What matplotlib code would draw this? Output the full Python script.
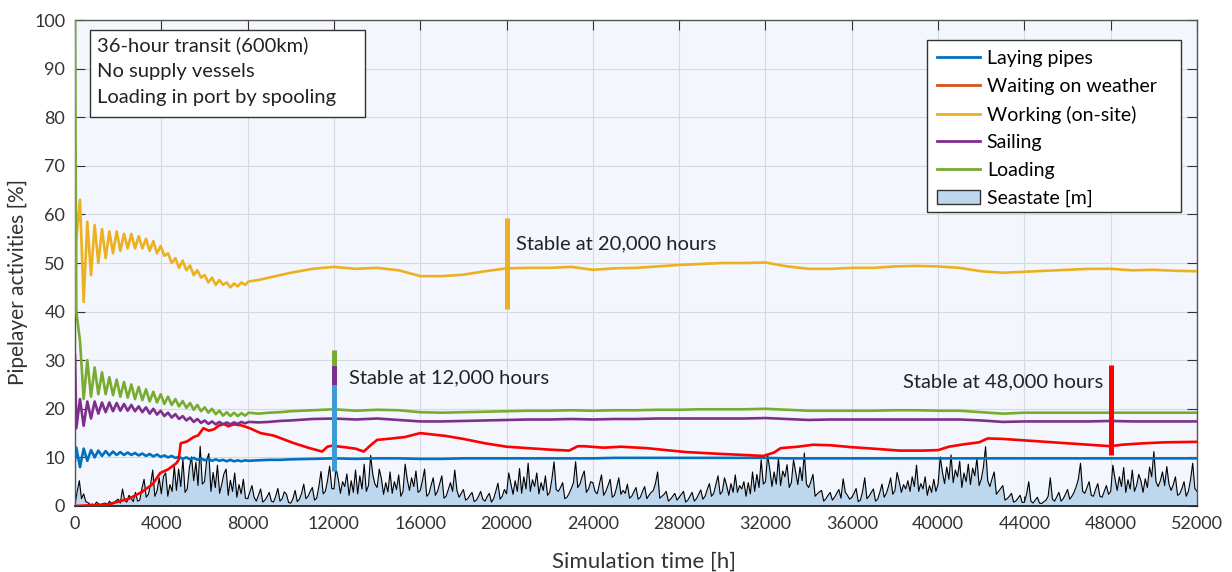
import matplotlib.pyplot as plt
import numpy as np
from matplotlib.lines import Line2D
from matplotlib.patches import Patch, Rectangle

plt.rcParams["font.family"] = ["Lato", "DejaVu Sans"]

# time grid shared by the four oscillating series [h]
hours = [0, 60] + list(range(230, 8051, 170)) + [8500, 9000, 9500] + list(range(10000, 52001, 1000))

laying = [
    9.5, 12.0, 8.0, 11.8, 9.3, 11.5, 10.0, 11.4, 10.3, 11.3, 10.4, 11.2, 10.5, 11.1, 10.5, 11.0,
    10.5, 10.9, 10.4, 10.8, 10.3, 10.7, 10.2, 10.6, 10.1, 10.4, 10.0, 10.3, 9.9, 10.1, 9.7, 10.0,
    9.6, 9.9, 9.5, 9.8, 9.4, 9.7, 9.3, 9.6, 9.3, 9.5, 9.2, 9.5, 9.2, 9.4, 9.2, 9.4, 9.3,
    9.4, 9.5, 9.5,
    9.6, 9.7, 9.8, 9.7, 9.8, 9.8, 9.7, 9.7, 9.8, 9.8, 9.8, 9.8, 9.8, 9.8, 9.8, 9.9, 9.9, 9.9,
    9.9, 9.9, 9.9, 9.9, 9.9, 9.8, 9.8, 9.8, 9.8, 9.8, 9.8, 9.8, 9.8, 9.8, 9.8, 9.8, 9.8, 9.8,
    9.8, 9.8, 9.8, 9.8, 9.8, 9.8, 9.8,
]
working = [
    42.0, 55.0, 63.0, 42.0, 58.5, 47.5, 57.8, 50.0, 57.0, 51.0, 56.5, 52.0, 56.5, 52.5, 56.0, 53.0,
    56.0, 53.0, 55.5, 53.0, 55.0, 52.5, 54.5, 52.0, 53.5, 51.5, 52.0, 50.0, 51.0, 49.0, 50.5, 48.5,
    49.5, 47.5, 48.5, 47.0, 47.5, 46.0, 47.0, 45.5, 46.5, 45.5, 46.0, 45.0, 45.8, 45.2, 46.0, 45.5,
    46.2,
    46.5, 47.0, 47.5,
    48.0, 48.8, 49.2, 48.8, 49.0, 48.5, 47.3, 47.3, 47.6, 48.3, 48.9, 49.0, 49.0, 49.2, 48.6, 48.9,
    49.0, 49.3, 49.6, 49.8, 50.0, 50.0, 50.1, 49.3, 48.8, 48.8, 49.0, 49.0, 49.3, 49.4, 49.3, 49.0,
    48.3, 48.0, 48.2, 48.4, 48.6, 48.8, 48.8, 48.5, 48.6, 48.4, 48.3,
]
sailing = [
    31.0, 16.0, 22.0, 16.5, 21.5, 18.0, 21.5, 19.0, 21.3, 19.3, 21.3, 19.5, 21.2, 19.6, 21.0, 19.6,
    20.8, 19.5, 20.5, 19.3, 20.3, 19.0, 20.0, 18.8, 19.6, 18.5, 19.2, 18.2, 18.9, 17.9, 18.5, 17.6,
    18.2, 17.3, 17.9, 17.1, 17.6, 16.9, 17.4, 16.8, 17.3, 16.8, 17.2, 16.8, 17.2, 16.9, 17.3, 17.0,
    17.3,
    17.2, 17.3, 17.5,
    17.6, 17.9, 18.0, 17.8, 18.0, 17.7, 17.4, 17.4, 17.5, 17.6, 17.7, 17.8, 17.8, 17.9, 17.8, 17.9,
    17.9, 18.0, 18.0, 18.0, 18.0, 18.0, 18.1, 17.9, 17.7, 17.8, 17.8, 17.8, 17.8, 17.8, 17.8, 17.8,
    17.6, 17.3, 17.4, 17.4, 17.4, 17.4, 17.5, 17.4, 17.4, 17.4, 17.4,
]
loading = [
    100.0, 40.0, 34.0, 22.0, 30.0, 22.5, 28.5, 23.0, 27.5, 23.0, 26.5, 22.8, 26.0, 22.5, 25.5, 22.3,
    25.0, 22.0, 24.5, 21.8, 24.0, 21.5, 23.5, 21.3, 23.0, 21.0, 22.5, 20.8, 22.0, 20.5, 21.6, 20.2,
    21.2, 19.8, 20.8, 19.5, 20.3, 19.2, 20.0, 18.9, 19.6, 18.6, 19.3, 18.5, 19.2, 18.5, 19.1, 18.6,
    19.2,
    19.0, 19.2, 19.3,
    19.5, 19.7, 19.9, 19.6, 19.8, 19.7, 19.3, 19.2, 19.3, 19.4, 19.5, 19.6, 19.6, 19.7, 19.6, 19.7,
    19.7, 19.8, 19.8, 19.9, 19.9, 19.9, 20.0, 19.8, 19.6, 19.6, 19.6, 19.6, 19.7, 19.7, 19.6, 19.6,
    19.3, 19.0, 19.2, 19.2, 19.2, 19.2, 19.2, 19.2, 19.2, 19.2, 19.2,
]

# waiting on weather has its own time points
wow_hours = [
    0, 1500, 2500, 3100, 3600, 3950, 4300, 4700, 4800, 4900, 5200, 5500, 5700, 5950, 6200, 6450,
    6650, 6900, 7100, 7350, 7700, 8100, 8600, 9200, 10100, 10800, 11450, 11700, 11900, 12500, 13000,
    13380, 13700, 14000, 14700, 15300, 16000, 16600, 17200, 18000, 19000, 20000, 21000, 22000,
    22900, 23300, 23600, 24500, 25300, 26500, 28300, 30000, 31000, 31900, 32400, 32700, 33500,
    34200, 35000, 36000, 37000, 38200, 39300, 40000, 40500, 41200, 41900, 42300, 43000, 44000,
    45000, 46000, 47000, 48000, 48500, 49500, 50500, 52000,
]
waiting = [
    0.0, 0.3, 1.5, 2.9, 4.5, 6.8, 7.5, 8.8, 9.5, 12.9, 13.3, 14.2, 14.5, 16.0, 15.5, 15.8,
    16.5, 16.9, 16.4, 16.8, 16.6, 16.0, 15.0, 14.5, 13.0, 12.0, 11.2, 12.2, 12.4, 12.1, 11.8,
    11.2, 12.5, 13.6, 13.9, 14.2, 15.0, 14.7, 14.4, 13.8, 12.9, 12.2, 11.9, 11.6,
    11.4, 12.3, 12.3, 12.0, 12.2, 11.9, 11.1, 10.7, 10.5, 10.3, 11.0, 11.9, 12.2,
    12.6, 12.5, 12.1, 11.8, 11.4, 11.4, 11.5, 12.2, 12.7, 13.1, 13.9, 13.8, 13.5,
    13.2, 12.9, 12.6, 12.3, 12.6, 12.9, 13.1, 13.2,
]

# seastate [m] sampled every 100 h (two lines = 4000 h)
sea_hours = list(range(0, 52001, 100))
seastate = [
    0.3, 3.0, 5.2, 1.5, 2.5, 0.9, 0.7, 0.3, 0.4, 0.2, 0.8, 0.4, 0.3, 0.5, 0.6, 0.3, 1.0, 0.4, 0.5, 1.1,
    1.4, 0.6, 3.5, 1.2, 0.8, 2.2, 1.6, 0.9, 2.8, 1.0, 1.2, 3.6, 5.5, 1.8, 2.4, 4.4, 7.4, 2.0, 3.1, 5.8,
    2.5, 6.1, 6.8, 2.0, 4.4, 3.0, 8.2, 3.2, 7.6, 4.0, 9.6, 2.8, 3.5, 7.9, 10.1, 5.2, 9.0, 4.2, 12.3, 4.5,
    5.0, 9.4, 10.8, 3.0, 6.9, 3.8, 8.4, 2.6, 4.5, 6.6, 7.6, 2.2, 5.3, 3.0, 6.8, 1.8, 4.4, 2.5, 5.5, 1.6,
    1.5, 2.8, 4.2, 1.8, 1.0, 2.2, 3.5, 0.8, 1.2, 1.9, 2.8, 1.0, 0.8, 2.0, 3.6, 1.0, 1.5, 2.9, 2.4, 0.7,
    0.6, 1.5, 3.2, 0.9, 1.4, 2.6, 4.5, 1.5, 2.0, 3.0, 3.8, 1.2, 1.6, 4.0, 7.1, 2.5, 3.0, 5.2, 8.2, 3.6,
    3.5, 7.8, 5.5, 2.6, 5.0, 4.0, 6.6, 2.2, 5.2, 2.8, 7.4, 2.5, 6.2, 3.5, 8.6, 3.0, 4.2, 10.4, 6.5, 4.5,
    3.8, 7.6, 5.6, 2.4, 4.8, 2.9, 7.0, 2.6, 5.0, 3.4, 6.4, 2.0, 3.0, 8.6, 5.4, 3.2, 5.8, 4.0, 7.2, 2.8,
    3.2, 5.2, 7.6, 2.0, 2.5, 4.2, 5.8, 2.2, 3.0, 4.6, 6.2, 1.6, 2.0, 3.4, 4.8, 3.0, 7.4, 3.2, 1.8, 2.6,
    3.4, 1.2, 1.5, 2.2, 2.8, 0.9, 1.2, 2.0, 3.0, 1.4, 1.0, 1.9, 2.6, 0.8, 1.5, 3.0, 4.7, 1.4, 2.0, 3.4,
    2.5, 6.8, 4.6, 2.4, 5.2, 3.0, 7.7, 2.6, 6.0, 3.5, 8.8, 3.0, 5.4, 4.0, 6.8, 2.5, 4.8, 3.2, 6.2, 2.2,
    2.8, 5.5, 9.1, 3.4, 3.0, 3.8, 4.8, 1.5, 1.8, 2.6, 3.6, 4.8, 9.1, 3.8, 4.5, 6.0, 7.2, 2.8, 3.5, 5.0,
    4.8, 3.0, 2.5, 4.4, 6.4, 2.2, 3.0, 4.2, 5.5, 1.8, 2.2, 3.8, 5.8, 2.4, 3.2, 2.6, 4.5, 1.6, 2.0, 2.9,
    3.8, 1.4, 1.8, 3.0, 4.0, 1.5, 2.2, 2.8, 3.2, 4.6, 7.0, 1.6, 2.0, 2.4, 3.0, 1.0, 1.4, 2.0, 2.6, 1.2,
    1.8, 2.4, 3.0, 0.8, 1.2, 2.0, 2.8, 1.0, 1.5, 2.4, 3.3, 1.4, 2.0, 3.4, 4.6, 2.0, 2.6, 4.4, 6.2, 2.4,
    3.0, 5.8, 4.2, 2.2, 4.6, 2.8, 6.4, 2.8, 4.2, 3.5, 5.0, 2.0, 4.8, 2.5, 7.0, 3.0, 6.5, 3.8, 9.5, 4.5,
    5.0, 10.5, 7.5, 4.0, 7.0, 4.5, 9.8, 4.2, 7.2, 6.0, 8.5, 3.8, 4.8, 9.5, 7.0, 4.4, 8.0, 5.2, 10.9, 4.5,
    3.8, 5.0, 6.5, 2.0, 2.5, 2.9, 3.2, 1.0, 1.5, 2.2, 2.8, 1.2, 1.8, 2.6, 3.4, 1.6, 5.6, 2.8, 2.2, 1.4,
    1.8, 2.6, 3.6, 0.9, 1.2, 3.0, 5.8, 1.5, 2.0, 2.8, 3.5, 1.0, 1.4, 2.8, 4.5, 1.8, 2.6, 4.0, 5.8, 2.4,
    3.2, 6.9, 5.0, 2.8, 4.4, 3.5, 5.2, 3.0, 6.0, 4.0, 8.4, 3.0, 4.6, 3.5, 6.0, 2.2, 4.2, 2.8, 5.5, 3.0,
    4.5, 10.1, 7.0, 4.6, 8.0, 5.5, 10.5, 4.8, 7.4, 6.0, 9.2, 3.8, 6.8, 5.0, 8.6, 4.4, 7.8, 6.2, 9.8, 4.2,
    5.5, 8.0, 12.2, 5.2, 4.0, 5.6, 7.0, 2.4, 3.0, 3.6, 4.2, 1.2, 1.5, 2.0, 2.6, 0.8, 1.0, 1.6, 2.2, 0.7,
    0.8, 2.4, 5.0, 1.0, 0.6, 1.2, 1.8, 0.6, 0.5, 0.9, 1.2, 2.0, 5.8, 1.4, 1.0, 1.9, 2.8, 1.0, 1.5, 2.4,
    3.4, 1.4, 2.0, 2.8, 4.0, 5.5, 8.8, 3.0, 2.6, 3.8, 5.0, 2.2, 2.0, 3.4, 4.6, 2.0, 1.8, 3.0, 4.2, 2.4,
    3.0, 8.4, 5.6, 3.2, 6.0, 4.0, 7.9, 2.8, 5.4, 3.5, 7.4, 3.0, 4.2, 6.5, 5.2, 2.8, 5.6, 3.8, 8.0, 6.0,
    11.2, 5.0, 4.0, 5.2, 7.0, 4.2, 8.1, 4.5, 3.2, 4.4, 6.0, 2.2, 2.5, 3.6, 5.0, 2.0, 3.0, 5.4, 8.8, 3.6,
    3.0,
]

series_labels = ["Laying pipes", "Waiting on weather", "Working (on-site)", "Sailing", "Loading"]
plot_colors = ["#0072BD", "#FF0000", "#EDB120", "#7E2F8E", "#77AC30"]
legend_colors = ["#0072BD", "#D95319", "#EDB120", "#7E2F8E", "#77AC30"]

# "stable at" markers: (hour, [(y0, y1, colour), ...], label)
stable_marks = [
    (20000, [(40.5, 59.2, "#EDB120")], "Stable at 20,000 hours"),
    (12000, [(7.1, 24.9, "#3E9BD8"), (24.9, 29.0, "#7E2F8E"), (29.0, 32.1, "#77AC30")], "Stable at 12,000 hours"),
    (48000, [(10.5, 29.0, "#FF0000")], "Stable at 48,000 hours"),
]

fig = plt.figure(figsize=(12.32, 5.72), dpi=100)
ax = fig.add_axes([0.0609, 0.1154, 0.9107, 0.8496])
ax.set_facecolor("#F3F6FC")

ax.fill_between(sea_hours, 0, seastate, color="#BDD7EE", lw=0, zorder=1)
ax.plot(sea_hours, seastate, color="black", lw=0.8, zorder=2)

ax.plot(hours, laying, color=plot_colors[0], lw=1.9, zorder=3)
ax.plot(wow_hours, waiting, color=plot_colors[1], lw=1.9, zorder=3)
ax.plot(hours, working, color=plot_colors[2], lw=1.9, zorder=3)
ax.plot(hours, sailing, color=plot_colors[3], lw=1.9, zorder=3)
ax.plot(hours, loading, color=plot_colors[4], lw=1.9, zorder=3)

for hx, segs, label in stable_marks:
    for y0, y1, c in segs:
        ax.plot([hx, hx], [y0, y1], color=c, lw=3.6, solid_capstyle="butt", zorder=4)

ax.text(20450, 53.9, stable_marks[0][2], fontsize=14.5, color="#222222", va="center", ha="left")
ax.text(12700, 26.3, stable_marks[1][2], fontsize=14.5, color="#222222", va="center", ha="left")
ax.text(47650, 25.6, stable_marks[2][2], fontsize=14.5, color="#222222", va="center", ha="right")

# info box (fixed size, like the original text box)
ax.add_patch(Rectangle((0.0134, 0.8004), 0.2451, 0.179, transform=ax.transAxes,
                       fc="white", ec="#333333", lw=1.0, zorder=6))
ax.text(0.0196, 0.966, "36-hour transit (600km)\nNo supply vessels\nLoading in port by spooling",
        transform=ax.transAxes, fontsize=14.5, color="#222222", va="top", ha="left",
        linespacing=1.62, zorder=7)

# legend, drawn inside a fixed frame
ax.add_patch(Rectangle((0.7594, 0.6049), 0.2263, 0.3539, transform=ax.transAxes,
                       fc="white", ec="#333333", lw=1.0, zorder=6))
handles = [Line2D([0], [0], color=c, lw=2) for c in legend_colors]
handles.append(Patch(facecolor="#BDD7EE", edgecolor="#333333", lw=1.0))
leg = ax.legend(handles, series_labels + ["Seastate [m]"], loc="upper left",
                bbox_to_anchor=(0.7594, 0.9588), borderaxespad=0, fontsize=14, frameon=False,
                handlelength=2.2, handletextpad=0.35, labelspacing=0.55, borderpad=0.52)
leg.set_zorder(7)

ax.set_xlim(0, 52000)
ax.set_ylim(0, 100)
ax.set_xticks(np.arange(0, 52001, 4000))
ax.set_yticks(np.arange(0, 101, 10))
ax.grid(True, color="#D5D9E2", lw=0.8, zorder=0)
ax.set_axisbelow(True)
ax.tick_params(direction="in", length=7, width=0.8, top=True, right=True,
               labelsize=13, colors="#333333", pad=7)
for s in ax.spines.values():
    s.set_color("#555555")
    s.set_linewidth(1.0)
ax.spines["bottom"].set_color("#222222")
ax.spines["bottom"].set_linewidth(1.3)

ax.set_xlabel("Simulation time [h]", fontsize=16, color="#333333")
ax.set_ylabel("Pipelayer activities [%]", fontsize=15, color="#333333")
ax.xaxis.set_label_coords(0.507, -0.093)
ax.yaxis.set_label_coords(-0.0415, 0.461)

fig.savefig("out.png", dpi=100)
